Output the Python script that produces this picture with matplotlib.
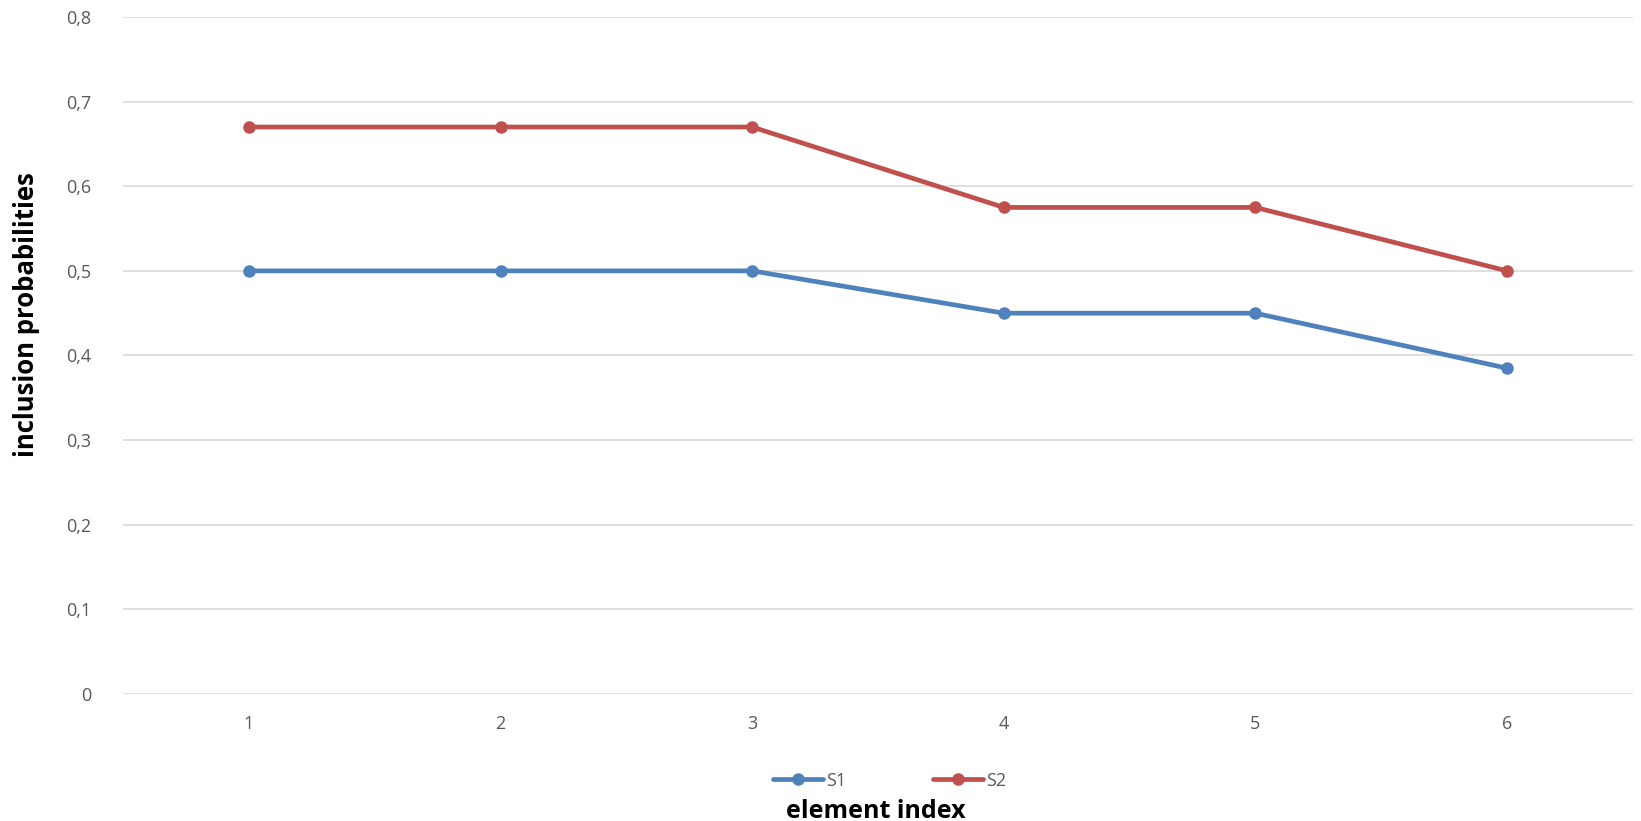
import matplotlib.pyplot as plt
import numpy as np

# inclusion probabilities per element for the two designs
elements = [1, 2, 3, 4, 5, 6]
s1 = [0.5, 0.5, 0.5, 0.45, 0.45, 0.385]
s2 = [0.67, 0.67, 0.67, 0.575, 0.575, 0.5]
yticks = [0, 0.1, 0.2, 0.3, 0.4, 0.5, 0.6, 0.7, 0.8]

plt.rcParams['font.family'] = ['Open Sans', 'DejaVu Sans']

fig = plt.figure(figsize=(16.41, 8.21), dpi=100)
ax = fig.add_axes([0.075, 0.1547, 0.92, 0.8246])

x = np.arange(len(elements))
ax.plot(x, s1, color='#4F81BD', lw=3.4, marker='o', ms=8, label='S1', solid_capstyle='round')
ax.plot(x, s2, color='#C0504D', lw=3.4, marker='o', ms=8, label='S2', solid_capstyle='round')

ax.set_xlim(-0.5, len(elements) - 0.5)
ax.set_ylim(0, 0.8)
ax.set_xticks(x)
ax.set_xticklabels([str(e) for e in elements])
ax.set_yticks(yticks)
ax.set_yticklabels(['0' if v == 0 else ('%.1f' % v).replace('.', ',') for v in yticks])
ax.tick_params(length=0, labelsize=13, labelcolor='#595959')
ax.tick_params(axis='y', pad=23)
ax.tick_params(axis='x', pad=15)
ax.grid(axis='y', color='#D9D9D9', lw=1.2)
ax.set_axisbelow(True)
for s in ax.spines.values():
    s.set_visible(False)

fig.text(0.016, 0.617, 'inclusion probabilities', fontsize=18.5, fontweight='bold',
         rotation=90, ha='center', va='center')
fig.text(0.534, 0.004, 'element index', fontsize=18, fontweight='bold', ha='center', va='baseline')

leg = fig.legend(loc='center', bbox_to_anchor=(0.542, 0.049), ncol=2, frameon=False,
                 fontsize=13, handlelength=2.8, columnspacing=4.8, handletextpad=0.15)
for t in leg.get_texts():
    t.set_color('#595959')

fig.savefig('out.png', dpi=100)
